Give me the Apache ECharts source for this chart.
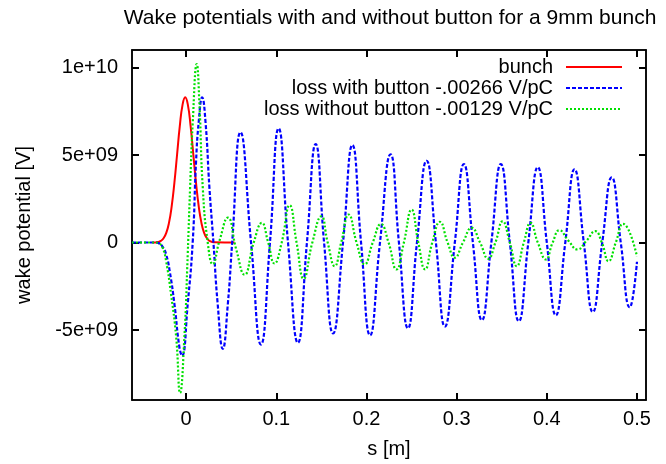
<!DOCTYPE html>
<html><head><meta charset="utf-8">
<script src="https://cdn.jsdelivr.net/npm/echarts@6/dist/echarts.min.js"></script>
<style>html,body{margin:0;padding:0;background:#fff}#c{width:666px;height:464px}</style>
</head><body><div id="c"></div>
<script>
// ---- data (s in m, wake potential in V) ----
const titleText = 'Wake potentials with and without button for a 9mm bunch';
const seriesNames = ['bunch', 'loss with button -.00266 V/pC', 'loss without button -.00129 V/pC'];

const sBunch = [-0.037, -0.031, -0.028, -0.025, -0.022, -0.019, -0.016, -0.013, -0.010, -0.007, -0.004, -0.001,
  0.002, 0.005, 0.008, 0.011, 0.014, 0.017, 0.020, 0.023, 0.026, 0.029, 0.032, 0.0537];
const vBunch = [0, 0.03e9, 0.09e9, 0.24e9, 0.55e9, 1.12e9, 2.07e9, 3.41e9, 5.03e9, 6.65e9, 7.85e9, 8.3e9,
  7.85e9, 6.65e9, 5.03e9, 3.41e9, 2.07e9, 1.12e9, 0.55e9, 0.24e9, 0.09e9, 0.03e9, 0.01e9, 0];

const sWith = [-0.06, -0.045, -0.035, -0.03, -0.026, -0.0222, -0.018, -0.013, -0.0074, -0.0045, 0.0018, 0.0074, 0.011, 0.014,
  0.0178, 0.0215, 0.0259, 0.0303, 0.035, 0.0407, 0.0463, 0.0511, 0.0603, 0.072, 0.083, 0.093, 0.1026, 0.113,
  0.124, 0.134, 0.1437, 0.153, 0.163, 0.174, 0.1844, 0.194, 0.204, 0.215, 0.2267, 0.236, 0.246, 0.256,
  0.2667, 0.277, 0.287, 0.298, 0.308, 0.318, 0.328, 0.3385, 0.349, 0.359, 0.369, 0.3795, 0.39, 0.40,
  0.41, 0.4205, 0.4307, 0.441, 0.451, 0.4615, 0.472, 0.482, 0.492, 0.5];
const vWith = [0, 0, 0, -0.05e9, -0.25e9, -0.67e9, -1.7e9, -3.5e9, -6.0e9, -6.48e9, -3.5e9, 0.1e9, 4.6e9, 6.9e9,
  8.3e9, 6.9e9, 3.1e9, 0, -3.5e9, -6.08e9, -3.5e9, 0, 6.3e9, 0, -5.83e9, 0, 6.52e9, 0,
  -5.73e9, 0, 5.62e9, 0, -5.2e9, 0, 5.57e9, 0, -5.3e9, 0, 5.04e9, 0, -4.9e9, 0,
  4.67e9, 0, -4.8e9, 0, 4.48e9, 0, -4.44e9, 0, 4.48e9, 0, -4.5e9, 0, 4.3e9, 0,
  -4.16e9, 0, 4.18e9, 0, -3.97e9, 0, 3.72e9, 0, -3.7e9, -1.1e9];

const sWithout = [-0.06, -0.045, -0.035, -0.03, -0.026, -0.0222, -0.0167, -0.011, -0.0067, -0.0019, 0.0018, 0.0044, 0.0074,
  0.0118, 0.0148, 0.0185, 0.024, 0.0296, 0.037, 0.0463, 0.0556, 0.0648, 0.075, 0.084, 0.091, 0.098, 0.106,
  0.1148, 0.1225, 0.1304, 0.140, 0.150, 0.157, 0.1648, 0.172, 0.1803, 0.189, 0.198, 0.207, 0.216, 0.2245,
  0.2333, 0.2415, 0.250, 0.2575, 0.265, 0.273, 0.2815, 0.290, 0.298, 0.307, 0.3167, 0.326, 0.335, 0.343,
  0.351, 0.359, 0.3667, 0.3745, 0.382, 0.390, 0.399, 0.4065, 0.414, 0.424, 0.434, 0.444, 0.4537, 0.461,
  0.4685, 0.4765, 0.4845, 0.5];
const vWithout = [0, 0, 0, -0.05e9, -0.3e9, -1.05e9, -2.95e9, -5.4e9, -8.6e9, -5.4e9, -0.67e9, 3.1e9, 6.9e9,
  10.2e9, 7.9e9, 3.1e9, 0, -1.24e9, 0.1e9, 1.42e9, -0.4e9, -1.84e9, 0, 1.12e9, 0, -1.2e9, 0,
  2.13e9, 0, -2.07e9, 0, 1.5e9, 0, -1.35e9, 0, 1.6e9, 0, -1.25e9, 0, 1.05e9, 0,
  -1.54e9, 0, 1.88e9, 0, -1.54e9, 0, 1.18e9, 0, -0.87e9, 0, 0.84e9, 0, -0.93e9, 0,
  1.21e9, 0, -1.35e9, 0, 1.12e9, 0, -0.97e9, 0, 0.7e9, 0.1e9, -0.4e9, 0.1e9, 0.65e9, 0,
  -1.07e9, 0, 1.07e9, -0.8e9];

const xTicks = [0, 0.1, 0.2, 0.3, 0.4, 0.5];
const yTicks = [-5e9, 0, 5e9, 1e10];
const yTickLabels = ['-5e+09', '0', '5e+09', '1e+10'];

// ---- chart ----
const FONT = '"Liberation Sans", Arial, Helvetica, sans-serif';
const zip = (xs, ys) => xs.map((x, i) => [x, ys[i]]);
const chart = echarts.init(document.getElementById('c'), null, {renderer: 'canvas'});

const tickStyle = {show: true, inside: true, length: 7, lineStyle: {color: '#000', width: 2}};
const lineStyleAxis = {show: true, onZero: false, lineStyle: {color: '#000', width: 1.5}};
function xAxisDef(pos, showLabel) {
  return {
    type: 'value', position: pos, min: -0.06, max: 0.51,
    name: showLabel ? 's [m]' : '', nameLocation: 'middle', nameGap: 39,
    nameTextStyle: {fontFamily: FONT, fontSize: 20, color: '#000'},
    axisLine: lineStyleAxis,
    splitLine: {show: false},
    axisTick: Object.assign({customValues: xTicks}, tickStyle),
    axisLabel: {show: showLabel, customValues: xTicks, margin: 9, fontFamily: FONT, fontSize: 20, color: '#000',
      formatter: v => String(v)}
  };
}
function yAxisDef(pos, showLabel) {
  return {
    type: 'value', position: pos, min: -9e9, max: 1.1e10,
    name: showLabel ? 'wake potential [V]' : '', nameLocation: 'middle', nameGap: 98, nameRotate: 90,
    nameTextStyle: {fontFamily: FONT, fontSize: 20, color: '#000'},
    axisLine: lineStyleAxis,
    splitLine: {show: false},
    axisTick: Object.assign({customValues: yTicks}, tickStyle),
    axisLabel: {show: showLabel, customValues: yTicks, margin: 14, fontFamily: FONT, fontSize: 20, color: '#000',
      formatter: v => { const i = yTicks.indexOf(v); return i >= 0 ? yTickLabels[i] : ''; }}
  };
}

chart.setOption({
  animation: false,
  backgroundColor: '#fff',
  graphic: [{
    type: 'text', x: 390, y: 18,
    style: {text: titleText, align: 'center', verticalAlign: 'middle', fontFamily: FONT, fontSize: 21, fill: '#000'}
  }],
  grid: {left: 132, right: 20, top: 50, bottom: 63, show: true, borderColor: '#000', borderWidth: 1.5, backgroundColor: 'transparent'},
  legend: {
    orient: 'vertical', align: 'right', right: 38, top: 52,
    itemWidth: 56, itemHeight: 14, itemGap: 1,
    textStyle: {fontFamily: FONT, fontSize: 20, color: '#000', lineHeight: 20, padding: [0, 8, 0, 0]},
    itemStyle: {opacity: 0},
    data: seriesNames
  },
  xAxis: [xAxisDef('bottom', true), xAxisDef('top', false)],
  yAxis: [yAxisDef('left', true), yAxisDef('right', false)],
  series: [
    {name: seriesNames[0], type: 'line', data: zip(sBunch, vBunch), showSymbol: false, symbol: 'none', smooth: 0.5,
      lineStyle: {color: '#ff0000', width: 2}, itemStyle: {color: '#ff0000'}},
    {name: seriesNames[1], type: 'line', data: zip(sWith, vWith), showSymbol: false, symbol: 'none', smooth: 0.5,
      lineStyle: {color: '#0000ff', width: 2.2, type: [4, 2]}, itemStyle: {color: '#0000ff'}},
    {name: seriesNames[2], type: 'line', data: zip(sWithout, vWithout), showSymbol: false, symbol: 'none', smooth: 0.5,
      lineStyle: {color: '#00e000', width: 2.2, type: [2, 2]}, itemStyle: {color: '#00e000'}}
  ]
});
</script>
</body></html>
